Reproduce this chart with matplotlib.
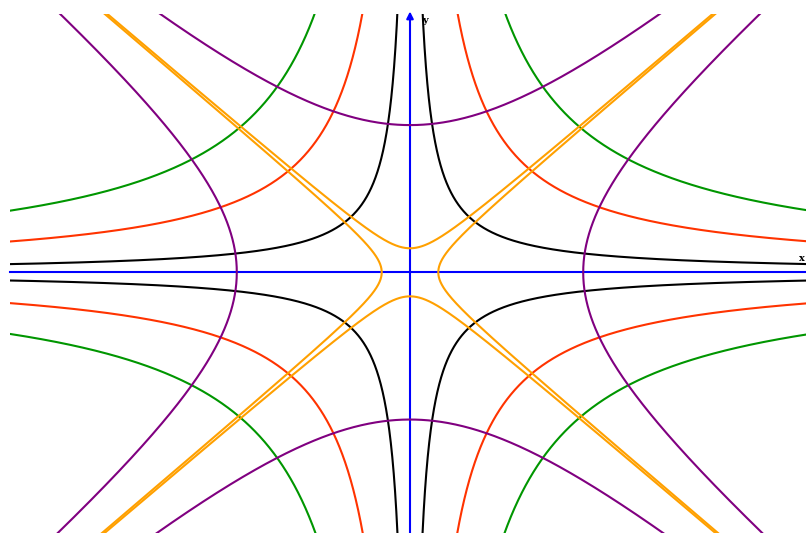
import numpy as np
import matplotlib
matplotlib.use("Agg")
import matplotlib.pyplot as plt

# Data: families of hyperbolas
xy_constants = [0.385, 1.45, 2.9]          # x*y = ±c
xy_colors = ["black", "#ff3300", "#009600"]
diff_constants = [3.0, 0.08]               # x^2 - y^2 = ±a
diff_colors = ["#800080", "#ffa000"]
x_range = (-4.0, 3.96)
y_range = (-3.067, 3.039)
axis_labels = ["x", "y"]

W, H = 806, 533
fig = plt.figure(figsize=(W / 100, H / 100), dpi=100)
ax = fig.add_axes([10 / W, 0.0, (W - 10) / W, (H - 14) / H])
ax.set_xlim(*x_range)
ax.set_ylim(*y_range)
ax.axis("off")

lw = 1.5
# axes
ax.plot([x_range[0], x_range[1]], [0, 0], color="blue", lw=lw, zorder=1, clip_on=False)
ax.annotate("", xy=(0, y_range[1] + 0.03), xytext=(0, y_range[0]),
            arrowprops=dict(arrowstyle="-|>", color="blue", lw=lw, mutation_scale=10,
                            shrinkA=0, shrinkB=0),
            annotation_clip=False, zorder=1)
ax.text(x_range[1] - 0.01, 0.16, axis_labels[0], fontsize=7, family="DejaVu Serif",
        fontweight="bold", ha="right", va="center")
ax.text(0.12, y_range[1] - 0.08, axis_labels[1], fontsize=7, family="DejaVu Serif",
        fontweight="bold", ha="left", va="center")

# x*y = ±c
for c, col in zip(xy_constants, xy_colors):
    xs = np.geomspace(c / 3.2, 4.2, 800)
    ys = c / xs
    for sx, sy in [(1, 1), (-1, -1), (1, -1), (-1, 1)]:
        ax.plot(sx * xs, sy * ys, color=col, lw=lw, zorder=2)

# x^2 - y^2 = ±a
t = np.linspace(-3.5, 3.5, 1500)
for a, col in zip(diff_constants, diff_colors):
    r = np.sqrt(a)
    for s in (1, -1):
        ax.plot(s * r * np.cosh(t), r * np.sinh(t), color=col, lw=lw, zorder=2)
        ax.plot(r * np.sinh(t), s * r * np.cosh(t), color=col, lw=lw, zorder=2)

fig.savefig("out.png", dpi=100)
